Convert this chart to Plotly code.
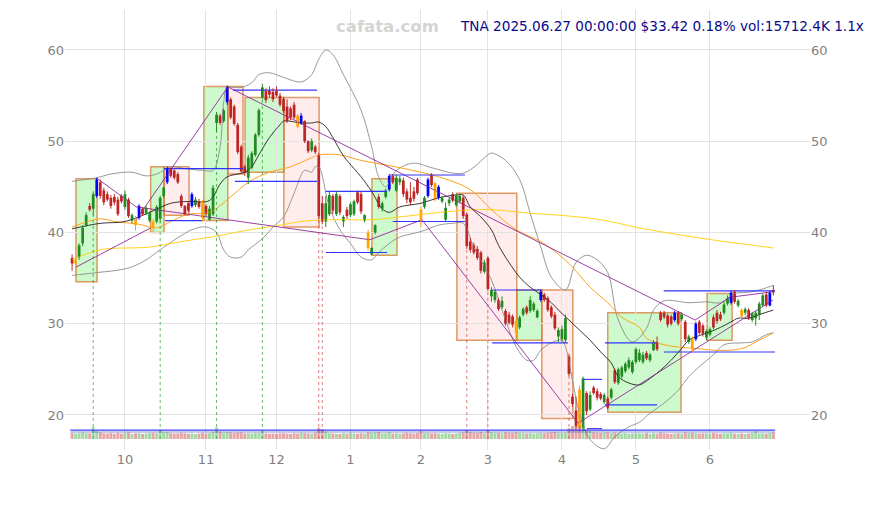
import plotly.graph_objects as go
import pandas as pd

# ---------------- data ----------------
HOLIDAYS = ["2024-11-28", "2024-12-25", "2025-01-01", "2025-01-09", "2025-01-20",
            "2025-02-17", "2025-04-18", "2025-05-26", "2025-06-19"]
dates = [d for d in pd.bdate_range("2024-09-10", "2025-06-27")
         if d.strftime("%Y-%m-%d") not in HOLIDAYS]

open_ = [37.2, 36.6, 37.3, 38.8, 40.8, 42.9, 42.6, 44.0, 45.5, 44.6,
         44.2, 43.8, 43.9, 43.6, 44.0, 42.8, 43.6, 41.3, 41.4, 41.6,
         42.6, 42.1, 41.3, 41.2, 41.2, 41.5, 44.0, 45.5, 47.0, 46.8,
         46.4, 44.0, 42.9, 43.2, 42.9, 43.0, 43.4, 43.2, 42.9, 41.4,
         42.0, 52.0, 52.8, 52.2, 54.3, 54.6, 53.8, 51.8, 49.4, 47.2,
         46.0, 47.1, 48.5, 50.7, 54.8, 55.5, 55.5, 55.4, 55.5, 55.0,
         54.6, 53.8, 53.6, 54.0, 52.8, 52.0, 52.2, 50.0, 49.0, 49.4,
         48.5, 43.2, 41.2, 42.0, 44.0, 42.0, 44.0, 41.2, 42.5, 41.9,
         42.0, 44.4, 44.2, 41.3, 40.0, 37.6, 40.0, 43.9, 42.6, 43.9,
         44.7, 46.2, 44.6, 45.5, 45.7, 44.5, 43.8, 44.5, 45.8, 42.5,
         42.8, 44.0, 46.3, 45.4, 43.8, 43.4, 41.4, 43.2, 44.2, 43.0,
         43.4, 43.8, 42.0, 39.0, 38.6, 38.2, 37.8, 35.7, 37.2, 33.0,
         32.6, 32.6, 31.8, 31.4, 31.0, 30.8, 30.3, 29.6, 31.0, 31.8,
         31.4, 31.5, 30.7, 32.6, 33.2, 32.8, 31.8, 31.0, 28.6, 28.3,
         28.2, 26.4, 22.0, 20.5, 22.8, 18.6, 22.4, 20.6, 23.0, 22.6,
         22.3, 21.4, 21.8, 21.9, 24.9, 23.5, 24.2, 24.8, 25.2, 24.7,
         25.8, 26.0, 25.8, 26.8, 26.0, 27.1, 28.0, 31.2, 31.2, 30.9,
         30.8, 30.4, 31.2, 30.5, 30.2, 28.0, 28.4, 28.3, 30.2, 29.8,
         28.5, 28.8, 30.7, 31.2, 31.0, 31.2, 32.2, 32.3, 33.5, 32.0,
         31.5, 31.2, 31.5, 30.4, 30.6, 31.0, 32.0, 33.2, 32.0, 33.7]
high_ = [37.6, 37.3, 38.8, 40.8, 42.2, 43.2, 44.5, 46.0, 45.8, 44.9,
         44.5, 44.1, 44.2, 43.9, 44.2, 44.6, 43.8, 42.1, 41.8, 43.1,
         42.8, 42.9, 42.3, 41.5, 43.0, 44.0, 45.0, 47.2, 47.1, 46.9,
         46.6, 44.2, 43.0, 43.4, 44.4, 43.9, 43.7, 43.6, 43.1, 42.9,
         45.2, 53.2, 53.0, 53.6, 56.1, 54.8, 54.0, 52.0, 49.6, 47.4,
         48.5, 48.9, 50.9, 53.6, 56.3, 55.8, 56.0, 55.8, 56.0, 55.3,
         54.8, 54.6, 53.8, 54.3, 53.0, 53.1, 52.3, 50.1, 50.3, 49.6,
         48.7, 44.0, 44.0, 44.5, 44.2, 44.5, 44.2, 41.9, 42.8, 43.3,
         43.6, 44.6, 44.5, 42.0, 40.3, 38.4, 40.9, 44.2, 43.4, 44.8,
         46.4, 46.4, 46.3, 46.2, 46.0, 44.8, 45.5, 45.0, 46.0, 42.8,
         44.0, 46.0, 46.5, 45.6, 45.2, 44.0, 43.3, 43.8, 44.4, 44.3,
         44.2, 44.1, 42.2, 39.4, 38.9, 38.5, 38.0, 37.0, 37.4, 34.0,
         33.7, 32.8, 33.0, 31.6, 31.3, 31.0, 30.5, 30.9, 31.8, 32.0,
         33.0, 32.4, 31.6, 33.7, 33.4, 33.0, 32.0, 31.3, 29.6, 29.8,
         31.0, 26.7, 22.3, 22.0, 23.2, 24.2, 22.6, 22.6, 23.2, 22.9,
         22.5, 22.4, 22.0, 23.0, 25.1, 25.2, 25.4, 25.8, 26.3, 26.0,
         27.4, 27.2, 26.9, 27.0, 26.8, 28.2, 28.6, 31.4, 31.4, 31.1,
         31.0, 31.4, 31.4, 31.2, 30.4, 28.8, 28.6, 30.2, 30.4, 30.0,
         29.4, 29.6, 31.0, 31.5, 31.3, 32.4, 33.1, 33.6, 33.7, 32.7,
         31.7, 31.8, 31.7, 31.3, 31.4, 32.4, 33.3, 33.5, 33.6, 34.2]
low_ = [35.8, 35.3, 37.0, 38.5, 40.6, 42.3, 41.8, 43.8, 43.7, 43.0,
        43.4, 42.6, 43.0, 41.8, 43.2, 42.5, 41.6, 41.0, 40.2, 41.4,
        41.8, 41.9, 41.1, 40.0, 41.0, 41.0, 43.8, 45.3, 46.0, 45.8,
        45.3, 42.7, 41.9, 42.2, 42.7, 42.8, 42.6, 41.2, 41.8, 41.3,
        41.8, 51.0, 51.8, 52.0, 54.0, 52.4, 51.7, 48.6, 46.5, 46.2,
        45.3, 46.9, 48.3, 50.5, 54.6, 54.2, 54.8, 54.3, 54.8, 53.8,
        53.1, 52.0, 52.3, 52.4, 51.4, 51.8, 49.8, 48.7, 48.8, 48.6,
        41.5, 40.9, 40.6, 41.8, 42.0, 41.8, 41.9, 40.6, 41.5, 41.7,
        41.8, 43.1, 42.0, 41.1, 38.0, 37.5, 39.8, 42.6, 42.3, 43.7,
        44.5, 45.3, 44.4, 45.2, 43.9, 43.2, 43.0, 43.4, 44.1, 40.6,
        42.6, 43.8, 45.0, 43.4, 43.6, 43.2, 41.2, 42.9, 43.3, 42.8,
        43.2, 41.5, 38.2, 37.8, 37.6, 37.0, 35.5, 35.5, 33.6, 32.4,
        32.3, 31.4, 31.6, 29.8, 29.9, 29.6, 28.2, 29.4, 30.8, 31.0,
        31.2, 31.3, 30.6, 32.4, 32.4, 31.3, 30.6, 29.3, 28.0, 28.0,
        27.9, 24.2, 20.9, 18.5, 18.2, 18.2, 20.0, 20.4, 22.2, 21.6,
        21.6, 21.2, 20.6, 21.7, 23.4, 23.3, 24.0, 24.6, 25.0, 24.5,
        25.6, 25.8, 25.6, 26.0, 25.8, 27.0, 27.0, 30.2, 30.5, 29.6,
        29.8, 30.2, 29.8, 30.3, 28.0, 27.8, 26.9, 28.1, 28.8, 28.6,
        28.2, 28.6, 29.4, 30.0, 30.3, 31.0, 32.0, 32.1, 32.2, 31.8,
        30.5, 30.9, 30.4, 30.2, 29.8, 30.4, 31.9, 31.8, 31.9, 33.1]
close_ = [36.6, 37.0, 38.6, 40.5, 41.9, 42.5, 44.2, 45.8, 44.0, 43.3,
          43.6, 42.9, 43.3, 42.0, 43.4, 44.2, 41.8, 41.9, 40.8, 42.9,
          42.0, 42.7, 42.1, 40.5, 42.8, 43.8, 44.9, 47.0, 46.2, 46.0,
          45.5, 42.9, 42.0, 42.4, 44.2, 43.6, 42.8, 41.6, 42.0, 42.6,
          44.9, 52.9, 52.0, 53.4, 55.9, 52.6, 51.9, 48.8, 46.7, 46.5,
          48.2, 48.7, 50.7, 53.4, 55.9, 54.5, 55.1, 54.6, 55.0, 54.0,
          53.3, 52.2, 52.6, 52.6, 51.6, 52.8, 50.0, 48.9, 50.0, 48.8,
          41.8, 41.2, 43.2, 44.1, 42.4, 44.2, 42.2, 41.7, 41.8, 43.1,
          43.4, 43.3, 42.3, 41.9, 38.3, 38.3, 40.8, 42.8, 43.2, 44.6,
          46.2, 45.5, 46.0, 45.9, 44.2, 43.6, 43.3, 43.7, 44.3, 41.4,
          43.8, 45.8, 45.2, 43.6, 45.0, 43.8, 42.7, 43.6, 43.5, 44.0,
          44.0, 41.8, 38.5, 38.1, 37.8, 37.2, 35.8, 36.7, 33.8, 33.7,
          33.5, 31.6, 32.5, 30.0, 30.1, 29.9, 29.0, 30.7, 31.6, 31.2,
          32.6, 32.2, 31.4, 33.5, 32.6, 31.5, 30.8, 29.5, 29.3, 29.4,
          30.6, 24.5, 21.2, 18.8, 18.6, 24.0, 20.4, 22.2, 22.4, 21.9,
          21.8, 22.2, 20.8, 22.8, 23.6, 25.0, 25.2, 25.6, 26.0, 25.8,
          27.2, 26.8, 26.6, 26.2, 26.6, 27.9, 27.2, 30.4, 30.7, 29.9,
          30.0, 31.2, 30.0, 31.0, 28.3, 28.6, 27.2, 30.0, 29.0, 28.9,
          29.2, 29.4, 29.6, 30.3, 30.5, 32.1, 32.8, 33.4, 32.4, 32.5,
          30.8, 31.6, 30.6, 31.1, 31.2, 32.2, 33.1, 32.0, 33.36, 33.42]
volume_k = [15000, 13000, 14000, 15500, 14000, 13500, 29000, 19000, 16000, 14000,
            13000, 14500, 12500, 15000, 13000, 14000, 16000, 12500, 13500, 14000,
            12000, 13000, 14500, 15000, 13500, 22000, 16000, 17000, 14000, 13000,
            13500, 15000, 14000, 12500, 13500, 12000, 13000, 14500, 13000, 14000,
            17000, 28000, 18000, 15000, 17000, 16000, 14500, 15500, 16000, 13500,
            14000, 13000, 15000, 14500, 19000, 13500, 12500, 13000, 12000, 13500,
            14000, 13000, 12500, 14000, 13000, 15000, 14000, 13500, 13000, 15000,
            27000, 23000, 18000, 14000, 13000, 12500, 12000, 14000, 13000, 14500,
            13500, 12500, 14000, 13000, 16000, 15000, 15500, 17000, 13500, 14000,
            16500, 13000, 14000, 12500, 13500, 15000, 14000, 13000, 14500, 19000,
            14000, 15000, 13500, 14000, 13000, 12500, 14000, 13500, 12000, 13000,
            14500, 16000, 21000, 17000, 15500, 15000, 17000, 14000, 20000, 16000,
            15000, 14500, 14000, 16000, 15000, 14500, 16500, 15000, 14000, 13500,
            14500, 13000, 14000, 15000, 14000, 15500, 16000, 17000, 15000, 14500,
            15000, 26000, 31000, 33000, 30000, 32000, 22000, 19000, 16000, 15000,
            14500, 15000, 16000, 14000, 15500, 13500, 13000, 14000, 12500, 13500,
            14000, 13500, 13000, 14500, 12500, 14000, 13000, 15500, 14000, 13000,
            12500, 13500, 14000, 13000, 16000, 14500, 15000, 14000, 13000, 13500,
            14000, 13000, 14500, 13500, 12500, 14000, 13500, 15000, 13000, 12500,
            13500, 12000, 13000, 14500, 19000, 13500, 14000, 13000, 14300, 15712]

blue_idx = [7, 19, 27, 34, 44, 65, 90, 101, 104, 133, 171, 177, 187, 198]
orange_idx = [1, 18, 23, 37, 64, 84, 99, 103, 126, 144, 176, 190]

# moving averages / bands (index, value)
ma_black_i = [0, 8, 15, 22, 28, 33, 39, 42, 44, 49, 51, 53, 56, 59, 60, 65, 68, 70, 72, 74, 77, 80, 82, 85, 88, 90, 93,
              99, 104, 109, 111, 113, 116, 119, 121, 124, 127, 130, 133, 136, 138, 141, 144, 147, 150, 153,
              155, 158, 161, 164, 167, 170, 173, 175, 178, 181, 184, 187, 189, 192, 195, 199]
ma_black_v = [40.4, 41.0, 41.2, 42.2, 43.2, 43.4, 43.5, 45.3, 46.1, 46.6, 47.2, 48.5, 50.4, 51.8, 52.2, 52.0, 52.0, 52.1,
              51.6, 50.4, 48.4, 47.0, 46.1, 44.5, 42.6, 42.2, 42.8, 43.2, 43.8, 44.1, 44.1, 42.8, 41.7, 40.3,
              38.6, 36.7, 35.1, 34.0, 33.2, 32.3, 31.5, 30.4, 29.3, 28.2, 26.9, 25.7, 24.2, 23.5, 23.3, 24.0,
              24.9, 26.0, 27.3, 28.2, 28.7, 29.1, 29.6, 30.2, 30.6, 30.6, 31.0, 31.5]
ma_orange_i = [0, 8, 12, 19, 24, 28, 33, 39, 45, 50, 56, 62, 68, 70, 76, 82, 93, 104, 113, 119, 126, 133,
               139, 142, 147, 152, 156, 161, 163, 168, 173, 177, 182, 187, 191, 195, 199]
ma_orange_v = [40.6, 41.5, 41.2, 40.9, 40.5, 41.2, 42.0, 42.2, 43.9, 45.5, 46.6, 47.2, 48.2, 48.5, 48.5, 47.9,
               47.1, 46.1, 44.7, 42.5, 40.3, 39.0, 37.3, 36.2, 34.0, 32.3, 30.7, 29.6, 28.4, 27.7, 27.4,
               27.3, 27.1, 27.1, 27.4, 28.2, 29.0]
ma_yellow_i = [0, 8, 22, 31, 41, 49, 59, 65, 73, 85, 93, 102, 110, 119, 130, 138, 150, 161, 178, 199]
ma_yellow_v = [37.0, 38.1, 38.4, 39.0, 39.6, 40.2, 40.8, 41.2, 41.4, 41.4, 41.7, 42.1, 42.4, 42.5, 42.1, 41.9,
               41.4, 40.5, 39.4, 38.3]
bb_up_i = [0, 7, 11, 17, 21, 24, 26, 28, 32, 37, 40, 42, 43, 44, 48, 51, 53, 56, 60, 65, 68, 70, 72, 74, 77,
           82, 85, 87, 89, 92, 97, 102, 111, 118, 119, 123, 127, 130, 133, 136, 140, 143, 146, 149,
           152, 155, 159, 163, 165, 168, 175, 180, 184, 188, 193, 199]
bb_up_v = [45.6, 46.0, 46.4, 46.6, 46.2, 46.4, 46.8, 47.2, 47.0, 46.8, 46.8, 49.4, 54.2, 55.8, 55.9, 56.4,
           57.3, 57.5, 57.0, 56.5, 57.3, 59.0, 60.0, 59.5, 57.3, 53.4, 49.4, 46.1, 45.0, 46.8, 47.6, 47.1,
           46.5, 48.5, 48.7, 47.9, 45.8, 42.1, 38.4, 35.1, 33.7, 36.7, 37.5, 37.0, 35.6, 30.4, 28.0,
           29.5, 31.5, 32.5, 32.3, 32.4, 32.3, 33.3, 33.5, 34.2]
bb_lo_i = [0, 7, 16, 21, 25, 34, 38, 41, 43, 45, 48, 50, 53, 55, 57, 60, 63, 66, 68, 69, 70, 73, 76, 79, 82,
           85, 87, 90, 93, 99, 104, 108, 111, 114, 119, 123, 126, 129, 131, 133, 136, 139, 140, 142, 144,
           147, 151, 154, 158, 161, 164, 168, 172, 175, 178, 182, 185, 190, 193, 197, 199]
bb_lo_v = [35.3, 35.6, 36.1, 37.0, 38.1, 40.3, 40.6, 40.0, 38.1, 37.3, 37.3, 38.1, 39.0, 39.7, 40.6, 41.7,
           44.3, 46.8, 46.6, 47.2, 47.2, 42.8, 40.3, 38.8, 37.3, 37.0, 37.8, 38.8, 39.5, 40.1, 40.8, 41.0,
           41.0, 38.4, 34.8, 30.4, 27.5, 26.0, 26.0, 27.1, 27.9, 28.2, 27.5, 23.8, 20.2, 17.3, 16.3, 17.6,
           18.7, 19.2, 20.2, 21.3, 22.7, 24.2, 25.3, 26.6, 27.7, 27.9, 28.0, 28.8, 29.0]

# trend boxes: start index, end index, low, high, kind
box_x0 = [1.1, 22.3, 26.1, 37.4, 44.2, 49.1, 60.1, 85.1, 109.2, 126.2, 133.3, 152.0, 180.2]
box_x1 = [7.1, 26.1, 33.2, 44.2, 48.5, 60.1, 70.1, 92.2, 126.2, 133.3, 142.1, 172.8, 187.3]
box_lo = [34.6, 40.0, 41.9, 41.3, 46.4, 46.6, 40.6, 37.5, 28.2, 28.2, 19.6, 20.3, 28.2]
box_hi = [45.9, 47.2, 47.2, 56.0, 56.0, 54.8, 54.8, 45.9, 44.3, 33.7, 33.7, 31.2, 33.3]
box_up = [1, 1, 0, 1, 0, 1, 0, 1, 0, 1, 0, 1, 1]

# support / resistance segments
sr_level = [47.0, 41.3, 55.6, 45.6, 44.5, 37.8, 46.3, 41.2, 33.7, 27.9, 23.9, 18.5, 27.9, 21.1, 33.6, 26.9]
sr_x0 = [26.1, 26.4, 45.7, 46.2, 72.0, 72.0, 90.2, 91.0, 119.2, 119.2, 145.0, 146.1, 151.2, 151.2, 167.9, 167.9]
sr_x1 = [48.5, 37.1, 69.5, 69.5, 89.4, 89.4, 111.5, 111.5, 133.3, 140.7, 150.4, 150.4, 166.0, 166.0, 199.4, 199.4]

# zigzag / trend lines (index, price pairs)
zz_x0 = [1.1, 18.2, 44.2, 143.6, 176.8, 186.7, 7.2, 18.2, 84.5, 99.3]
zz_y0 = [36.2, 41.4, 55.95, 19.1, 30.4, 32.9, 45.9, 42.8, 39.2, 41.4]
zz_x1 = [22.3, 44.2, 176.8, 198.9, 186.7, 198.9, 18.2, 84.5, 99.3, 143.6]
zz_y1 = [40.5, 55.95, 30.4, 32.6, 32.9, 33.5, 42.8, 39.2, 41.4, 19.1]

vspike_green = [6, 25, 41, 54]
vspike_red = [70, 71, 112, 118, 141]
vol_levels = [21500, 16800]

# ---------------- figure ----------------
N = len(dates)
idx = list(range(N))
tick_idx, tick_txt = [], []
for i, d in enumerate(dates):
    if i > 0 and d.month != dates[i - 1].month:
        tick_idx.append(i)
        tick_txt.append(str(d.month))

GREEN = "rgb(34,139,34)"
RED = "rgb(190,38,38)"
BLUE = "#0000ff"
ORANGE = "#ffa500"
Y_RANGE = [16.16, 64.38]
VOL_PX = 2400.0
vol_range = [-11 * VOL_PX, 429 * VOL_PX]


def candle_color(i):
    if i in blue_idx:
        return BLUE
    if i in orange_idx:
        return ORANGE
    return GREEN if close_[i] >= open_[i] else RED


fig = go.Figure()

# volume
vol_colors = ["rgba(60,170,60,0.45)" if close_[i] >= open_[i] else "rgba(200,60,60,0.45)" for i in idx]
fig.add_trace(go.Bar(x=idx, y=volume_k, marker=dict(color=vol_colors, line=dict(width=0)),
                     width=0.85, yaxis="y2", hoverinfo="skip"))
for lv, col in zip(vol_levels, ["rgba(40,40,255,0.9)", "rgba(120,120,200,0.8)"]):
    fig.add_trace(go.Scatter(x=[idx[0] - 0.5, idx[-1] + 0.5], y=[lv, lv], mode="lines",
                             line=dict(color=col, width=1.2), yaxis="y2", hoverinfo="skip"))

# bands and averages
fig.add_trace(go.Scatter(x=bb_up_i, y=bb_up_v, mode="lines", line=dict(color="#8c8c8c", width=0.9, shape="spline")))
fig.add_trace(go.Scatter(x=bb_lo_i, y=bb_lo_v, mode="lines", line=dict(color="#8c8c8c", width=0.9, shape="spline")))
fig.add_trace(go.Scatter(x=ma_yellow_i, y=ma_yellow_v, mode="lines", line=dict(color="#ffd21a", width=1, shape="spline")))
fig.add_trace(go.Scatter(x=ma_orange_i, y=ma_orange_v, mode="lines", line=dict(color="#ffa31a", width=1, shape="spline")))
fig.add_trace(go.Scatter(x=ma_black_i, y=ma_black_v, mode="lines", line=dict(color="#222222", width=0.9, shape="spline")))

# vertical spike lines
for lst, col in [(vspike_green, "rgba(0,140,0,0.6)"), (vspike_red, "rgba(200,40,40,0.6)")]:
    xs, ys = [], []
    for i in lst:
        xs += [i, i, None]
        ys += [17.37, low_[i], None]
    fig.add_trace(go.Scatter(x=xs, y=ys, mode="lines", line=dict(color=col, width=1, dash="dot"), hoverinfo="skip"))

# zigzag lines
xs, ys = [], []
for a, b, c, d in zip(zz_x0, zz_y0, zz_x1, zz_y1):
    xs += [a, c, None]
    ys += [b, d, None]
fig.add_trace(go.Scatter(x=xs, y=ys, mode="lines", line=dict(color="rgba(140,30,150,0.85)", width=1), hoverinfo="skip"))

# support / resistance
xs, ys = [], []
for lv, a, b in zip(sr_level, sr_x0, sr_x1):
    xs += [a, b, None]
    ys += [lv, lv, None]
fig.add_trace(go.Scatter(x=xs, y=ys, mode="lines", line=dict(color="rgba(30,30,255,0.9)", width=1.1), hoverinfo="skip"))

# candles: wicks + bodies per colour group
for col in [GREEN, RED, BLUE, ORANGE]:
    ids = [i for i in idx if candle_color(i) == col]
    wx, wy = [], []
    for i in ids:
        wx += [i, i, None]
        wy += [low_[i], high_[i], None]
    fig.add_trace(go.Scatter(x=wx, y=wy, mode="lines", line=dict(color=col, width=1), hoverinfo="skip"))
    base = [min(open_[i], close_[i]) for i in ids]
    height = [max(abs(close_[i] - open_[i]), 0.12) for i in ids]
    fig.add_trace(go.Bar(x=ids, y=height, base=base, width=0.78,
                         marker=dict(color=col, line=dict(width=0)), hoverinfo="skip"))

# right-side axis holder
fig.add_trace(go.Scatter(x=[0], y=[40], yaxis="y3", mode="markers", marker=dict(opacity=0), hoverinfo="skip"))

# boxes
shapes = []
for a, b, lo, hi, up in zip(box_x0, box_x1, box_lo, box_hi, box_up):
    shapes.append(dict(type="rect", xref="x", yref="y", x0=a, x1=b, y0=lo, y1=hi, layer="below",
                       fillcolor="rgba(0,230,0,0.2)" if up else "rgba(255,0,0,0.07)",
                       line=dict(color="rgba(215,120,50,0.75)", width=1.5)))

tickfont = dict(family="DejaVu Sans", size=13, color="#7f7f7f")
fig.update_layout(
    width=865, height=497,
    margin=dict(l=57, r=63, t=2, b=55),
    paper_bgcolor="white", plot_bgcolor="white",
    showlegend=False, barmode="overlay",
    shapes=shapes,
    xaxis=dict(range=[-2.01, 209.4], tickmode="array", tickvals=tick_idx, ticktext=tick_txt,
               showgrid=True, gridcolor="#e3e3e3", gridwidth=1, zeroline=False, showline=False,
               ticks="", tickfont=tickfont, fixedrange=True),
    yaxis=dict(range=Y_RANGE, tickvals=[20, 30, 40, 50, 60], showgrid=True, gridcolor="#e3e3e3",
               zeroline=False, showline=False, ticks="", tickfont=tickfont),
    yaxis2=dict(range=vol_range, overlaying="y", visible=False),
    yaxis3=dict(range=Y_RANGE, overlaying="y", side="right", tickvals=[20, 30, 40, 50, 60],
                showgrid=False, zeroline=False, showline=False, ticks="", tickfont=tickfont),
    annotations=[
        dict(text="<b>cafata.com</b>", xref="paper", yref="paper", x=0.433, y=0.9636,
             xanchor="center", yanchor="middle", showarrow=False,
             font=dict(family="DejaVu Sans", size=16.5, color="#d4d4d4")),
        dict(text="TNA 2025.06.27 00:00:00 $33.42 0.18% vol:15712.4K 1.1x", xref="paper", yref="paper",
             x=1.0745, y=0.9636, xanchor="right", yanchor="middle", showarrow=False,
             font=dict(family="DejaVu Sans", size=13.6, color="#0a0a8c")),
    ],
)

fig.write_html("out.html")
